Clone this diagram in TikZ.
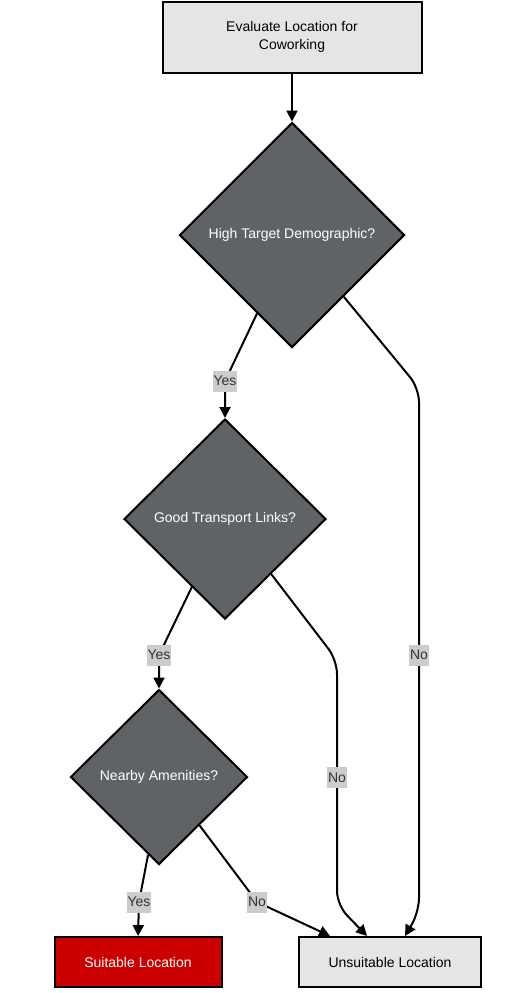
\documentclass[tikz,border=0pt]{standalone}
\usepackage{fontspec}
\setmainfont{Liberation Sans}
\usetikzlibrary{shapes.geometric,arrows.meta}

\definecolor{boxgray}{RGB}{229,229,229}
\definecolor{decgray}{RGB}{95,99,104}
\definecolor{okred}{RGB}{204,0,0}
\definecolor{lblgray}{RGB}{204,204,204}
\definecolor{lbltext}{RGB}{51,51,51}

\tikzset{
  step box/.style={draw=black, line width=2pt, fill=boxgray, inner sep=2pt,
    font=\fontsize{14}{18}\selectfont, align=center},
  decision/.style={draw=black, line width=2pt, fill=decgray, shape=diamond,
    aspect=1, inner sep=0pt, text=white, font=\fontsize{14}{17}\selectfont},
  lbl/.style={fill=lblgray, text=lbltext, inner sep=1pt, minimum height=21pt,
    sharp corners, font=\fontsize{14}{16}\selectfont},
  flow/.style={draw, line width=2pt, ->, rounded corners=14pt}
}

\begin{document}
\begin{tikzpicture}[x=1pt, y=-1pt, >={Triangle[length=11pt,width=11pt]}]
      \useasboundingbox (0,0) rectangle (512,993) ;
      % boxes
      \node[step box, minimum width=259pt, minimum height=71pt] %
      (start) at (292,37) {Evaluate Location for\\Coworking} ;
      \node[decision, minimum width=225pt, minimum height=225pt] %
      (demo) at (292,235) {High Target Demographic?} ;
      \node[decision, minimum width=202pt, minimum height=200pt] %
      (trans) at (225,519) {Good Transport Links?} ;
      \node[decision, minimum width=177pt, minimum height=175pt] %
      (amen) at (159,777) {Nearby Amenities?} ;
      \node[step box, fill=okred, text=white, minimum width=167pt, minimum height=50pt] %
      (suit) at (138,962) {Suitable Location} ;
      \node[step box, minimum width=182pt, minimum height=50pt] %
      (unsuit) at (390,962) {Unsuitable Location} ;
      % connectors
      \draw[flow] (start) -- (demo) ;
      \draw[flow] (demo.246) -- (225,381) node[lbl]{Yes} -- (trans.north) ;
      \draw[flow] (demo.-50) -- (419,388) -- (419,912) node[lbl, pos=0.51]{No} %
        -- ([xshift=15pt]unsuit.north) ;
      \draw[flow] (trans.244) -- (159,655) node[lbl]{Yes} -- (amen.north) ;
      \draw[flow] (trans.-50) -- (337,660) -- (337,905) node[lbl, pos=0.48]{No} %
        -- ([xshift=-23pt]unsuit.north) ;
      \draw[flow] (amen.262) -- (139,902) node[lbl]{Yes} -- (suit.north) ;
      \draw[flow] (amen.-50) -- (257,902) node[lbl]{No} -- ([xshift=-60pt]unsuit.north) ;
    \end{tikzpicture}
\end{document}
